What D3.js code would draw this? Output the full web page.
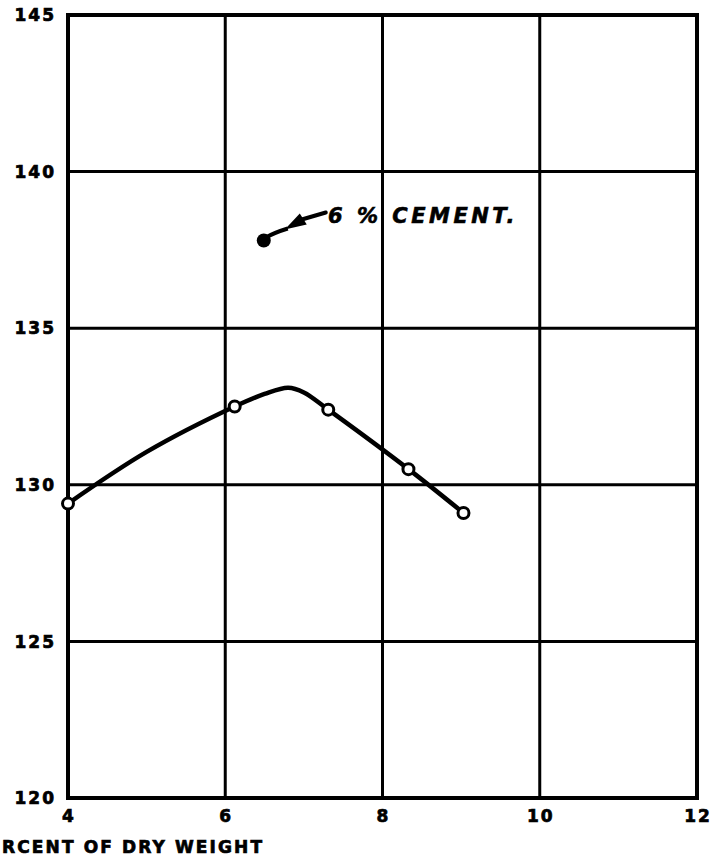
<!DOCTYPE html>
<html>
<head>
<meta charset="utf-8">
<script src="https://cdn.jsdelivr.net/npm/d3@7"></script>
<style>
  body { margin: 0; background: #fff; }
  svg { display: block; }
  .tick-label { font-family: "DejaVu Sans", sans-serif; font-weight: bold; font-size: 17px; letter-spacing: 2px; fill: #000; stroke: #000; stroke-width: 0.7px; }
</style>
</head>
<body>
<svg id="chart" width="716" height="859"></svg>
<script>
// values
const xTicks = [4, 6, 8, 10, 12];
const yTicks = [120, 125, 130, 135, 140, 145];
const xGrid = [6, 8, 10];
const yGrid = [125, 130, 135, 140];

// open circles (measured)
const moisture = [4.0, 6.12, 7.31, 8.33, 9.03];
const density = [129.4, 132.5, 132.4, 130.5, 129.1];

// hand-drawn fitted curve through them
const curveX = [4.0, 5.0, 6.12, 6.5, 6.8, 7.0, 7.31, 8.33, 9.03];
const curveY = [129.4, 131.05, 132.5, 132.9, 133.1, 132.95, 132.4, 130.5, 129.1];

// filled point + label
const cementPoint = [6.49, 137.8];
const cementLabel = "6 % CEMENT.";
// the reference crops the start of this title at the left edge
const xTitle = "RCENT OF DRY WEIGHT";

const svg = d3.select('#chart');

const x = d3.scaleLinear().domain([4, 12]).range([68, 697]);
const y = d3.scaleLinear().domain([120, 145]).range([798, 15]);

// grid
svg.append('g').selectAll('line').data(xGrid).join('line')
  .attr('x1', d => x(d)).attr('x2', d => x(d))
  .attr('y1', y(145)).attr('y2', y(120))
  .attr('stroke', '#000').attr('stroke-width', 3);

svg.append('g').selectAll('line').data(yGrid).join('line')
  .attr('x1', x(4)).attr('x2', x(12))
  .attr('y1', d => y(d)).attr('y2', d => y(d))
  .attr('stroke', '#000').attr('stroke-width', 3);

// frame
svg.append('rect')
  .attr('x', x(4)).attr('y', y(145))
  .attr('width', x(12) - x(4)).attr('height', y(120) - y(145))
  .attr('fill', 'none').attr('stroke', '#000').attr('stroke-width', 4);

// tick labels
svg.append('g').selectAll('text').data(yTicks).join('text')
  .attr('class', 'tick-label')
  .attr('x', 56).attr('y', d => y(d))
  .attr('dy', '0.36em')
  .attr('text-anchor', 'end')
  .text(d => d);

svg.append('g').selectAll('text').data(xTicks).join('text')
  .attr('class', 'tick-label')
  .attr('x', d => x(d) + 1).attr('y', 822)
  .attr('text-anchor', 'middle')
  .text(d => d);

svg.append('text')
  .attr('class', 'tick-label')
  .attr('x', 2).attr('y', 853)
  .attr('textLength', 260)
  .attr('lengthAdjust', 'spacing')
  .style('font-size', '17px')
  .style('letter-spacing', '0px')
  .text(xTitle);

// curve
const pts = curveX.map((d, i) => [x(d), y(curveY[i])]);
svg.append('path')
  .attr('d', d3.line().curve(d3.curveCatmullRom.alpha(0.5))(pts))
  .attr('fill', 'none').attr('stroke', '#000').attr('stroke-width', 4.5)
  .attr('stroke-linecap', 'round');

// open circles
svg.append('g').selectAll('circle').data(moisture).join('circle')
  .attr('cx', d => x(d)).attr('cy', (d, i) => y(density[i]))
  .attr('r', 5.5)
  .attr('fill', '#fff').attr('stroke', '#000').attr('stroke-width', 3);

// filled point
const cx = x(cementPoint[0]), cy = y(cementPoint[1]);
svg.append('circle')
  .attr('cx', cx).attr('cy', cy).attr('r', 7).attr('fill', '#000');

// arrow from label to point
svg.append('path')
  .attr('d', `M${cx + 2},${cy - 3} Q${cx + 11},${cy - 8} ${cx + 24},${cy - 12}`)
  .attr('fill', 'none').attr('stroke', '#000').attr('stroke-width', 4);
svg.append('path')
  .attr('d', `M${cx + 38},${cy - 21} L${cx + 62},${cy - 28}`)
  .attr('fill', 'none').attr('stroke', '#000').attr('stroke-width', 4)
  .attr('stroke-linecap', 'round');
svg.append('path')
  .attr('d', `M${cx + 21},${cy - 11} L${cx + 36},${cy - 27} L${cx + 43},${cy - 16} Z`)
  .attr('fill', '#000');

svg.append('text')
  .attr('x', 328).attr('y', 223)
  .attr('font-family', '"DejaVu Sans", sans-serif')
  .attr('font-weight', 'bold').attr('font-style', 'italic')
  .attr('font-size', 21).attr('letter-spacing', 3.5)
  .attr('stroke', '#000').attr('stroke-width', 0.6)
  .text(cementLabel);
</script>
</body>
</html>
